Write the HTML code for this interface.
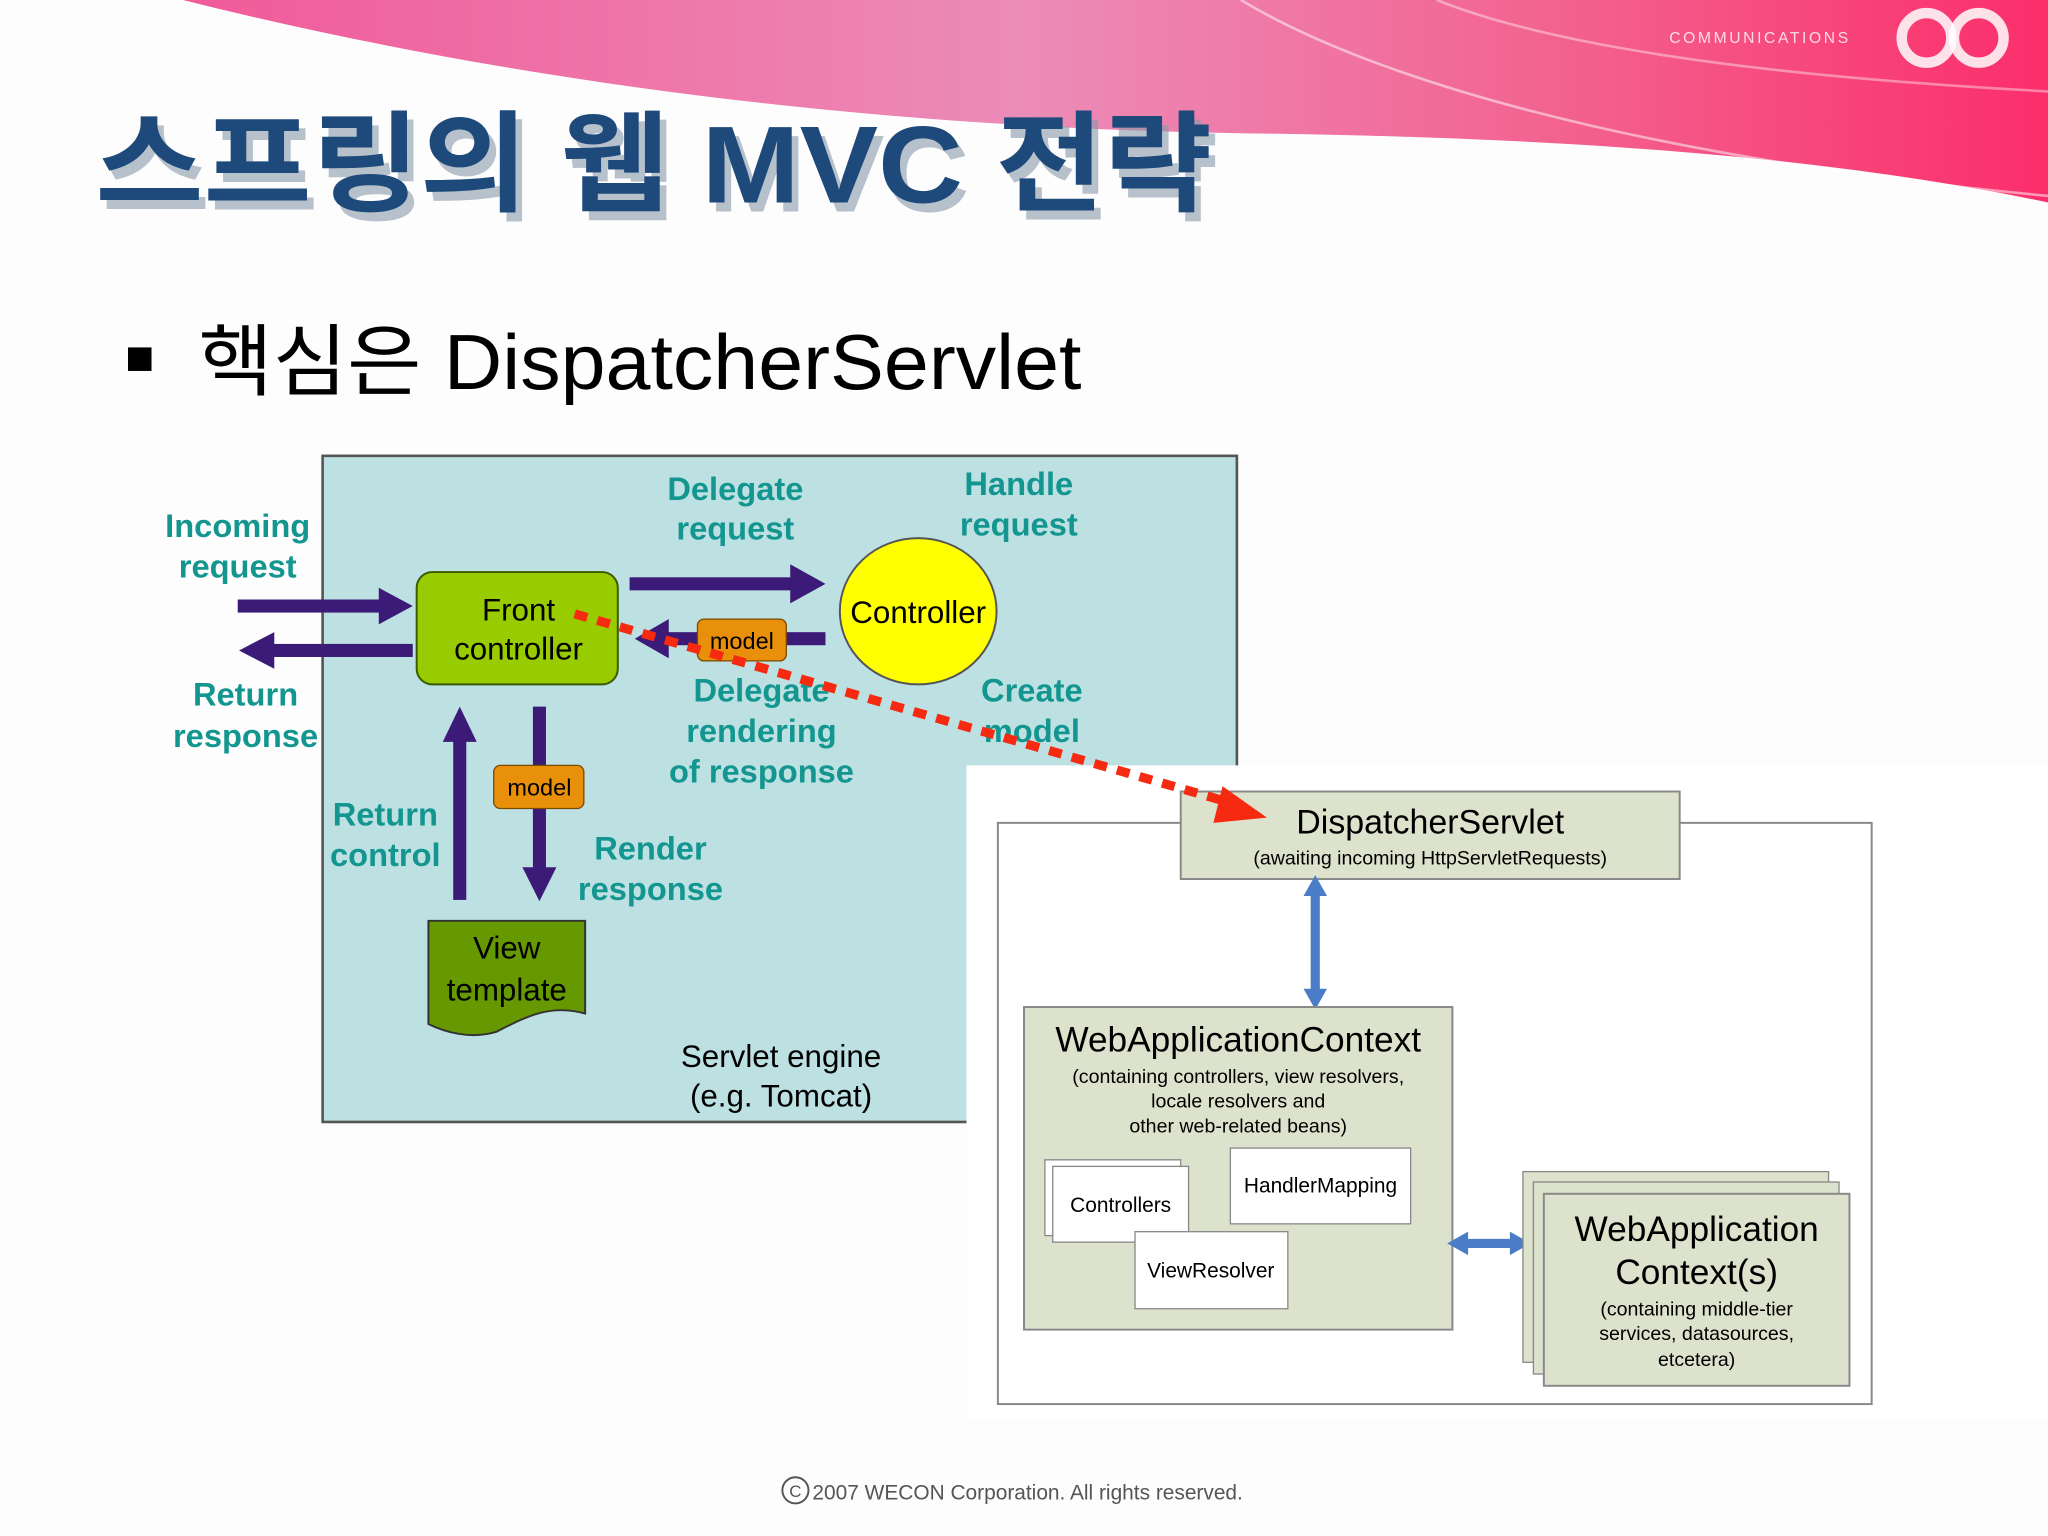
<!DOCTYPE html>
<html><head><meta charset="utf-8"><style>
html,body{margin:0;padding:0;background:#fff;}
svg{display:block;}
text{font-family:"Liberation Sans","Noto Sans CJK KR",sans-serif;}
.t{fill:#139690;font-weight:bold;font-size:25px;text-anchor:middle;}
</style></head><body>
<svg width="2048" height="1536" viewBox="0 0 1568 1176" preserveAspectRatio="none" xmlns="http://www.w3.org/2000/svg">
<defs>
<linearGradient id="pk" x1="0" y1="0" x2="1" y2="0">
<stop offset="0" stop-color="#f05a9a"/><stop offset="0.45" stop-color="#ec8cb8"/><stop offset="0.75" stop-color="#f3608e"/><stop offset="1" stop-color="#fb2e6a"/></linearGradient>
</defs>
<rect width="1568" height="1176" fill="#fdfdfd"/>
<!-- header swoosh -->
<path d="M140,0 L1568,0 L1568,155 C1400,120 1200,105 950,102 C700,98 420,70 140,0 z" fill="url(#pk)"/>
<path d="M950,0 C1050,60 1250,120 1568,150" stroke="#fff" stroke-opacity="0.5" fill="none" stroke-width="2"/>
<path d="M1100,0 C1200,40 1380,60 1568,70" stroke="#fff" stroke-opacity="0.4" fill="none" stroke-width="2"/>
<text x="1278" y="33" font-size="12" fill="#fff" fill-opacity="0.8" letter-spacing="2">COMMUNICATIONS</text>
<g fill="none" stroke="#fff" stroke-opacity="0.85" stroke-width="8">
<circle cx="1475" cy="29" r="19"/><circle cx="1515" cy="29" r="19"/></g>
<!-- title -->
<text x="78" y="162" font-size="84" font-weight="bold" fill="#8a9aab" opacity="0.6" textLength="855" lengthAdjust="spacingAndGlyphs">스프링의 웹 MVC 전략</text>
<text x="73" y="155" font-size="84" font-weight="bold" fill="#1e4a7b" textLength="855" lengthAdjust="spacingAndGlyphs">스프링의 웹 MVC 전략</text>
<rect x="98" y="266" width="18" height="18" fill="#000"/>
<text x="152" y="298" font-size="60" fill="#000" textLength="676" lengthAdjust="spacingAndGlyphs">핵심은 DispatcherServlet</text>
<!-- servlet engine box -->
<rect x="247" y="349" width="700" height="510" fill="#bde0e2" stroke="#555" stroke-width="2"/>
<text class="t" x="182" y="411">Incoming</text><text class="t" x="182" y="442">request</text>
<text class="t" x="188" y="540">Return</text><text class="t" x="188" y="572">response</text>
<text class="t" x="563" y="383">Delegate</text><text class="t" x="563" y="413">request</text>
<text class="t" x="780" y="379">Handle</text><text class="t" x="780" y="410">request</text>
<text class="t" x="583" y="537">Delegate</text><text class="t" x="583" y="568">rendering</text><text class="t" x="583" y="599">of response</text>
<text class="t" x="790" y="537">Create</text><text class="t" x="790" y="568">model</text>
<text class="t" x="295" y="632">Return</text><text class="t" x="295" y="663">control</text>
<text class="t" x="498" y="658">Render</text><text class="t" x="498" y="689">response</text>
<!-- arrows -->
<g fill="#3b1a78">
<rect x="182" y="459" width="110" height="10"/><path d="M290,450 L316,464 L290,478 z"/>
<rect x="208" y="493" width="108" height="10"/><path d="M210,484 L183,498 L210,512 z"/>
<rect x="482" y="442" width="125" height="10"/><path d="M605,432 L632,447 L605,462 z"/>
<rect x="510" y="484" width="122" height="10"/><path d="M512,474 L486,489 L512,504 z"/>
<rect x="347" y="565" width="10" height="124"/><path d="M339,568 L352,541 L365,568 z"/>
<rect x="408" y="541" width="10" height="125"/><path d="M400,664 L413,690 L426,664 z"/>
</g>
<rect x="319" y="438" width="154" height="86" rx="12" fill="#99cc00" stroke="#3a5a00" stroke-width="1.5"/>
<text x="397" y="475" font-size="24" text-anchor="middle">Front</text>
<text x="397" y="505" font-size="24" text-anchor="middle">controller</text>
<ellipse cx="703" cy="468" rx="60" ry="56" fill="#ffff00" stroke="#555" stroke-width="1.5"/>
<text x="703" y="477" font-size="24" text-anchor="middle">Controller</text>
<rect x="534" y="474" width="68" height="32" rx="5" fill="#e8900a" stroke="#7a4a00"/>
<text x="568" y="497" font-size="18" text-anchor="middle">model</text>
<rect x="378" y="586" width="69" height="33" rx="5" fill="#e8900a" stroke="#7a4a00"/>
<text x="413" y="609" font-size="18" text-anchor="middle">model</text>
<path d="M328,705 L448,705 L448,776 C420,768 400,780 380,790 C360,796 340,790 328,784 z" fill="#669900" stroke="#333" stroke-width="1.5"/>
<text x="388" y="734" font-size="24" text-anchor="middle">View</text>
<text x="388" y="766" font-size="24" text-anchor="middle">template</text>
<text x="598" y="817" font-size="24" text-anchor="middle">Servlet engine</text>
<text x="598" y="847" font-size="24" text-anchor="middle">(e.g. Tomcat)</text>
<!-- right diagram -->
<rect x="740" y="586" width="828" height="500" fill="#fff"/>
<rect x="764" y="630" width="669" height="445" fill="#fff" stroke="#888" stroke-width="1.5"/>
<rect x="904" y="606" width="382" height="67" fill="#dde2cd" stroke="#888" stroke-width="1.5"/>
<text x="1095" y="638" font-size="26" text-anchor="middle">DispatcherServlet</text>
<text x="1095" y="662" font-size="15" text-anchor="middle">(awaiting incoming HttpServletRequests)</text>
<line x1="440" y1="470" x2="940" y2="614" stroke="#f52a10" stroke-width="7" stroke-dasharray="10,8"/>
<path d="M936,602 L970,626 L929,630 z" fill="#f52a10"/>
<line x1="1007" y1="684" x2="1007" y2="760" stroke="#4a7cc8" stroke-width="7"/>
<path d="M998,686 L1007,670 L1016,686 z M998,757 L1007,773 L1016,757 z" fill="#4a7cc8"/>
<rect x="784" y="771" width="328" height="247" fill="#dde2cd" stroke="#888" stroke-width="1.5"/>
<text x="948" y="805" font-size="27" text-anchor="middle">WebApplicationContext</text>
<text x="948" y="829" font-size="15" text-anchor="middle">(containing controllers, view resolvers,</text>
<text x="948" y="848" font-size="15" text-anchor="middle">locale resolvers and</text>
<text x="948" y="867" font-size="15" text-anchor="middle">other web-related beans)</text>
<rect x="800" y="888" width="104" height="58" fill="#fff" stroke="#888"/>
<rect x="806" y="893" width="104" height="58" fill="#fff" stroke="#888"/>
<text x="858" y="928" font-size="16" text-anchor="middle">Controllers</text>
<rect x="942" y="879" width="138" height="58" fill="#fff" stroke="#888"/>
<text x="1011" y="913" font-size="16" text-anchor="middle">HandlerMapping</text>
<rect x="869" y="943" width="117" height="59" fill="#fff" stroke="#888"/>
<text x="927" y="978" font-size="16" text-anchor="middle">ViewResolver</text>
<line x1="1120" y1="952" x2="1160" y2="952" stroke="#4a7cc8" stroke-width="7"/>
<path d="M1124,943 L1108,952 L1124,961 z M1156,943 L1172,952 L1156,961 z" fill="#4a7cc8"/>
<rect x="1166" y="897" width="234" height="146" fill="#dde2cd" stroke="#888"/>
<rect x="1174" y="905" width="234" height="147" fill="#dde2cd" stroke="#888"/>
<rect x="1182" y="914" width="234" height="147" fill="#dde2cd" stroke="#888" stroke-width="1.5"/>
<text x="1299" y="950" font-size="27" text-anchor="middle">WebApplication</text>
<text x="1299" y="983" font-size="27" text-anchor="middle">Context(s)</text>
<text x="1299" y="1007" font-size="15" text-anchor="middle">(containing middle-tier</text>
<text x="1299" y="1026" font-size="15" text-anchor="middle">services, datasources,</text>
<text x="1299" y="1046" font-size="15" text-anchor="middle">etcetera)</text>
<!-- footer -->
<circle cx="609" cy="1141" r="10" fill="none" stroke="#555" stroke-width="1.5"/>
<text x="609" y="1146" font-size="13" text-anchor="middle" fill="#555">C</text>
<text x="622" y="1148" font-size="16" fill="#555">2007 WECON Corporation. All rights reserved.</text>
</svg>
</body></html>
